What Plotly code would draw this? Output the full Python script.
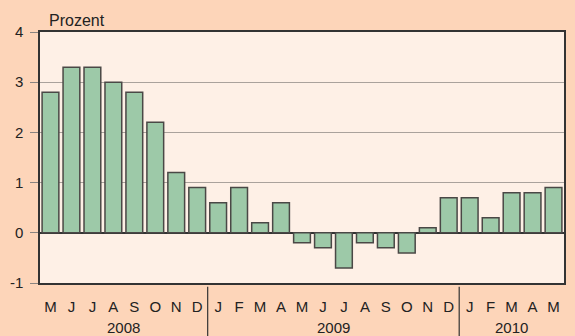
import plotly.graph_objects as go

months = ["M", "J", "J", "A", "S", "O", "N", "D",
          "J", "F", "M", "A", "M", "J", "J", "A", "S", "O", "N", "D",
          "J", "F", "M", "A", "M"]
values = [2.8, 3.3, 3.3, 3.0, 2.8, 2.2, 1.2, 0.9,
          0.6, 0.9, 0.2, 0.6, -0.2, -0.3, -0.7, -0.2, -0.3, -0.4, 0.1, 0.7,
          0.7, 0.3, 0.8, 0.8, 0.9]
years = ["2008", "2009", "2010"]
year_counts = [8, 12, 5]
y_ticks = [-1, 0, 1, 2, 3, 4]
y_ticktext = ["-1", "0", "1", "2", "3", "4"]

x = list(range(len(values)))

fig = go.Figure()
fig.add_trace(go.Bar(
    x=x, y=values,
    marker=dict(color="#9dc9a8", line=dict(color="#4a4846", width=1.5)),
    width=0.8,
))

# year labels centred under their months, separators between years
start = 0
for i, (yr, n) in enumerate(zip(years, year_counts)):
    centre = start + (n - 1) / 2
    fig.add_annotation(x=centre, y=-0.177, xref="x", yref="paper", text=yr,
                       showarrow=False, font=dict(size=15, color="#222"),
                       yanchor="middle")
    if i > 0:
        fig.add_shape(type="line", xref="x", yref="paper",
                      x0=start - 0.5, x1=start - 0.5, y0=-0.015, y1=-0.22,
                      line=dict(color="#333", width=1.2))
    start += n

fig.add_annotation(x=0, y=1.0, xref="paper", yref="paper", text="Prozent",
                   showarrow=False, xanchor="left", yanchor="bottom",
                   xshift=7, yshift=1, font=dict(size=16, color="#222"))

fig.update_layout(
    width=575, height=336,
    margin=dict(l=40, r=9, t=32, b=53),
    paper_bgcolor="#fdd5b9",
    plot_bgcolor="#fef0e6",
    showlegend=False,
    font=dict(family="Liberation Sans, Arial, sans-serif", size=14, color="#222"),
    xaxis=dict(
        tickmode="array", tickvals=x, ticktext=months,
        range=[-0.5, len(values) - 0.5],
        showgrid=False, ticks="", tickfont=dict(size=15),
        ticklabelstandoff=9,
        showline=True, linecolor="#333", linewidth=1.5, mirror=True,
        zeroline=False,
    ),
    yaxis=dict(
        range=[-1, 4], tickmode="array", tickvals=y_ticks, ticktext=y_ticktext,
        showgrid=True, gridcolor="#aaa29c", gridwidth=1,
        ticks="outside", ticklen=8, tickcolor="#8a8480",
        tickfont=dict(size=15), ticklabelstandoff=4,
        showline=True, linecolor="#333", linewidth=1.5, mirror=True,
        zeroline=True, zerolinecolor="#333", zerolinewidth=1.5,
    ),
    bargap=0.2,
)

fig.write_html("out.html")
